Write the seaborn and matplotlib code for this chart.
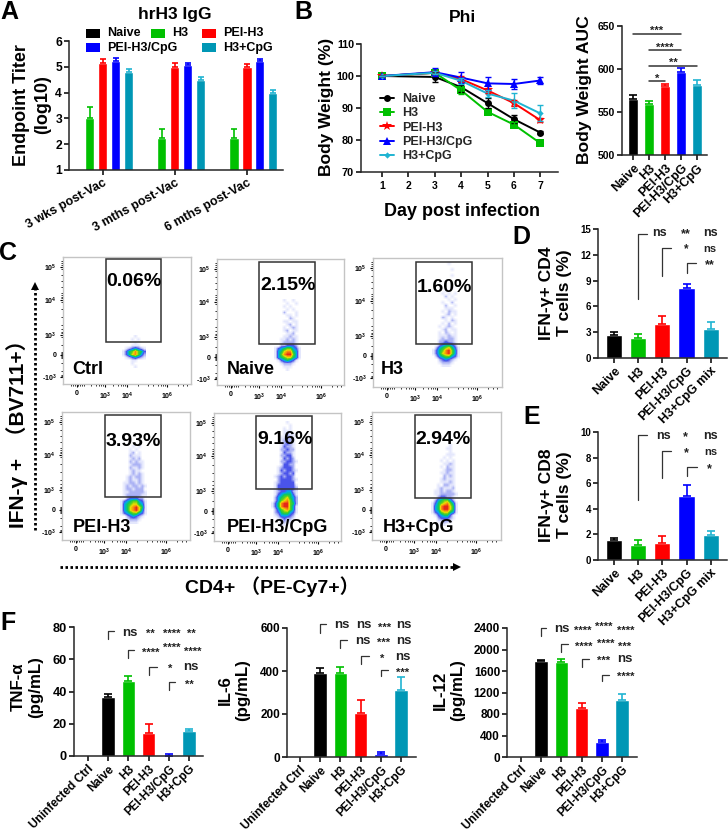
import matplotlib
matplotlib.use("Agg")
import matplotlib.pyplot as plt
import pandas as pd
import seaborn as sns
from matplotlib.colors import LinearSegmentedColormap
from matplotlib.patches import Rectangle

W, H = 728, 835

# ---- colours
BLACK, GREEN, RED, BLUE, TEAL = "#000000", "#00c000", "#ff0000", "#0000ff", "#0097b5"
TEAL_ERR = "#20b4d2"
COLORS = {"Naive": BLACK, "H3": GREEN, "PEI-H3": RED, "PEI-H3/CpG": BLUE, "H3+CpG": TEAL,
          "H3+CpG mix": TEAL, "Uninfected Ctrl": BLACK}
ERR_COLORS = {**COLORS, "H3+CpG": TEAL_ERR, "H3+CpG mix": TEAL_ERR}

# ---- A: titers
VACCINES = ["Naive", "H3", "PEI-H3", "PEI-H3/CpG", "H3+CpG"]
TIMES = ["3 wks post-Vac", "3 mths post-Vac", "6 mths post-Vac"]
TITER = {"Naive": [1, 1, 1], "H3": [3.0, 2.25, 2.25], "PEI-H3": [5.15, 5.0, 5.0],
         "PEI-H3/CpG": [5.22, 5.08, 5.23], "H3+CpG": [4.78, 4.5, 4.0]}
TITER_ERR = {"Naive": [0, 0, 0], "H3": [0.45, 0.35, 0.35], "PEI-H3": [0.15, 0.13, 0.1],
             "PEI-H3/CpG": [0.13, 0.08, 0.07], "H3+CpG": [0.15, 0.1, 0.1]}

# ---- B: body weight
DAYS = [1, 3, 4, 5, 6, 7]
WEIGHT = {"Naive": [100, 99.7, 96.5, 91.5, 86.5, 82.3], "H3": [100, 101, 95.5, 88.8, 84.8, 79],
          "PEI-H3": [100, 101, 99, 95.5, 91.5, 86.2], "PEI-H3/CpG": [100, 101.2, 99.5, 97.7, 97.5, 98.6],
          "H3+CpG": [100, 101, 98.5, 94.5, 92.3, 88.3]}
WEIGHT_ERR = {"Naive": [0, 1.5, 1.5, 1.5, 1.2, 0.5], "H3": [0, 0.5, 1, 0.7, 0.8, 0.5],
              "PEI-H3": [0, 0.5, 1, 0.7, 1, 0.7], "PEI-H3/CpG": [0, 1.2, 1.7, 2, 1.5, 1.2],
              "H3+CpG": [0, 0.5, 1, 1, 2.3, 2.5]}
MARKERS = {"Naive": "o", "H3": "s", "PEI-H3": "*", "PEI-H3/CpG": "^", "H3+CpG": "D"}
MARKER_SIZES = {"o": 5, "s": 5.2, "*": 7.5, "^": 5.5, "D": 3.2}
AUC = [565, 559.5, 580.5, 596, 581.5]
AUC_ERR = [5, 3, 2.5, 5.5, 5.5]
AUC_LINES = [(0, 3, 641), (1, 3, 622.5), (1, 4, 604), (1, 2, 586)]
AUC_STARS = [(1.45, 644, "***"), (2.0, 625, "****"), (2.5, 607, "**"), (1.5, 589, "*")]

# ---- D, E
TCELL_GROUPS = ["Naive", "H3", "PEI-H3", "PEI-H3/CpG", "H3+CpG mix"]
CD4 = [2.7, 2.3, 3.9, 8.1, 3.4]
CD4_ERR = [0.3, 0.5, 1.0, 0.55, 0.75]
CD8 = [1.55, 1.15, 1.3, 5.0, 1.95]
CD8_ERR = [0.15, 0.45, 0.6, 0.85, 0.3]
CD4_BRACKETS = [(1, 6.86, 14.46, 1.35), (2, 9.5, 12.8, 2.37), (3, 9.88, 11.05, 3.4)]
CD4_LABELS = [(1.86, 14.5, "ns", 9), (2.95, 14.4, "**", 9), (4.0, 14.5, "ns", 9),
              (2.97, 12.6, "*", 8.5), (3.97, 12.67, "ns", 8), (3.97, 10.8, "**", 9)]
CD8_BRACKETS = [(1, 4.7, 9.74, 1.37), (2, 6.37, 8.52, 2.37), (3, 6.55, 7.28, 3.43)]
CD8_LABELS = [(2.03, 9.72, "ns", 9), (2.95, 9.6, "*", 9), (3.99, 9.72, "ns", 9),
              (2.98, 8.35, "*", 9), (3.99, 8.42, "ns", 8), (3.96, 7.1, "*", 9)]

# ---- F
CYTO_GROUPS = ["Uninfected Ctrl", "Naive", "H3", "PEI-H3", "PEI-H3/CpG", "H3+CpG"]
TNF = [0, 36.5, 46.5, 14, 0.3, 15.5]
TNF_ERR = [0, 2, 3, 5.7, 1, 1.5]
TNF_BRACKETS = [(1, 72.8, 77.6, 1.3), (2, 61, 66, 2.3), (3, 50, 55, 3.4), (4, 41, 45.6, 4.3)]
TNF_LABELS = [(2.08, 76.3, "ns", 9.5), (3.07, 75.5, "**", 8), (4.13, 75.5, "****", 8), (5.13, 75.5, "**", 8),
              (3.11, 64, "****", 8), (4.13, 67, "****", 8), (5.2, 64.5, "****", 8),
              (4.08, 54, "*", 8), (5.07, 55, "ns", 9.5), (5.03, 44, "**", 8)]
IL6 = [0, 390, 390, 205, 13, 312]
IL6_ERR = [0, 25, 30, 60, 10, 60]
IL6_BRACKETS = [(1, 577, 617, 1.27), (2, 507, 543, 2.3), (3, 434, 470, 3.4), (4, 377, 406, 4.34)]
IL6_LABELS = [(2.07, 612, "ns", 9.5), (3.14, 612, "ns", 9.5), (4.18, 603, "***", 8), (5.15, 612, "ns", 9.5),
              (3.1, 538, "ns", 9.5), (4.13, 529, "***", 8), (5.15, 538, "ns", 9.5),
              (4.06, 456, "*", 8), (5.1, 465, "ns", 9.5), (5.08, 391, "***", 8)]
IL12 = [5, 1780, 1770, 915, 275, 1060]
IL12_ERR = [0, 30, 45, 85, 35, 105]
IL12_BRACKETS = [(1, 2244, 2400, 1.25), (2, 1945, 2107, 2.33), (3, 1671, 1820, 3.35), (4, 1415, 1527, 4.36)]
IL12_LABELS = [(2.0, 2381, "ns", 9.5), (3.07, 2340, "****", 8), (4.11, 2420, "****", 8), (5.16, 2340, "****", 8),
               (3.12, 2050, "****", 8), (4.19, 2110, "****", 8), (5.13, 2050, "***", 8),
               (4.09, 1780, "***", 8), (5.13, 1820, "ns", 9.5), (5.2, 1490, "****", 8)]

# ---- C: flow density, 0 empty .. 9 peak, one row per 3 px
FLOW_CTRL = ["00001000", "00010100", "00001000", "00011100", "01234321", "13568653",
             "13578642", "01234321", "00011000", "00010000", "00001000"]
FLOW_NAIVE = ["000100100", "000010010", "000101000", "000010100", "000200010", "000011010",
              "000002100", "000110110", "000012010", "000101210", "000120110", "000011200",
              "000112110", "001121210", "001222210", "002233320", "134566431", "145788541",
              "146899641", "145677541", "013454310", "001222100", "000111000", "000010000"]
FLOW_H3 = ["000001000", "000000000", "000000100", "000000000", "000000100", "000000000",
           "000000000", "000000000", "000000100", "000010000", "000101010", "000020100",
           "000001010", "000100200", "000020010", "000011100", "000102110", "000012010",
           "000210100", "000010210", "000102010", "001012100", "000120110", "001021010",
           "001112110", "001212210", "002232210", "002344320", "024567531", "135689641",
           "135789641", "024566431", "002343210", "001222100", "000111000"]
FLOW_PEI = ["000010100", "000101000", "000120100", "000211100", "000121200", "000212110",
            "000122210", "000211210", "000121100", "000121210", "001212210", "001211210",
            "011221210", "012122121", "012212220", "011222221", "012222211", "002333220",
            "134566431", "145677541", "145789751", "145789741", "134566431", "002343210",
            "001222100", "000111000"]
FLOW_PEI_CPG = ["000001000", "000000100", "000010100", "000011100", "000012110", "000112210",
                "000122210", "000123210", "000132210", "000223220", "000132210", "000223310",
                "000132320", "000223321", "000133220", "001233320", "001323321", "001233230",
                "012323320", "002333321", "012333330", "013333331", "013333332", "012334421",
                "013455531", "024567542", "024678642", "135899652", "135899641", "024678641",
                "023566431", "012444320", "001232210", "000121100", "000110000"]
FLOW_CPG = ["000000100", "000001100", "000000100", "000001110", "000010100", "000101010",
            "000011210", "000102110", "000012210", "000112110", "000021210", "000121110",
            "000111210", "001022110", "001211120", "011212210", "011222221", "002332210",
            "024566420", "135678641", "145899751", "145899751", "134677541", "013455310",
            "002333210", "001122100", "000110000"]
# name, gate text, frame l r t b, gate l r t b, density, grid x0 y0, gate text xy, name xy
FLOWS = [("Ctrl", "0.06%", (63, 191, 257, 384), (106, 161, 259, 342), FLOW_CTRL, (122, 335), (134, 282), (88, 370)),
         ("Naive", "2.15%", (217, 344, 259, 385), (259, 315, 262, 344), FLOW_NAIVE, (274, 299), (288, 285), (251, 370)),
         ("H3", "1.60%", (373, 502, 258, 387), (416, 472, 262, 344), FLOW_H3, (432, 262), (444, 287), (392, 370)),
         ("PEI-H3", "3.93%", (62, 190, 412, 540), (105, 161, 415, 497), FLOW_PEI, (120, 446), (133, 441), (102, 528)),
         ("PEI-H3/CpG", "9.16%", (214, 341, 413, 541), (256, 312, 416, 489), FLOW_PEI_CPG, (271, 421), (285, 439), (277, 528)),
         ("H3+CpG", "2.94%", (372, 501, 412, 540), (415, 471, 415, 498), FLOW_CPG, (431, 445), (443, 439), (418, 528))]
FLOW_XTICKS = [14, 42, 64, 104]
FLOW_XLABELS = ["0", "10$^{3}$", "10$^{4}$", "10$^{6}$"]
FLOW_YTICKS = [10, 43, 78, 98, 120]
FLOW_YLABELS = ["10$^{5}$", "10$^{4}$", "10$^{3}$", "0", "-10$^{3}$"]
FLOW_XMINOR = [8, 10, 12, 15, 17, 19, 21, 28, 33, 36, 38, 40, 50, 55, 58, 60, 62, 75, 85, 90, 95, 98, 100, 102, 115, 120, 124]
FLOW_YMINOR = [4, 6, 8, 12, 18, 24, 30, 36, 38, 40, 41, 45, 52, 60, 68, 72, 75, 76, 80, 88, 95, 96, 97, 99, 100, 101, 106, 114, 118, 119]
FLOW_CMAP = LinearSegmentedColormap.from_list(
    "flow", ["#ffffff", "#e4e7fc", "#aab1f4", "#4a54ea", "#00a8ee", "#10c860", "#58d020", "#e8e000", "#f88c10", "#e62818"])

sns.set_theme(style="ticks")
plt.rcParams["font.family"] = ["Liberation Sans", "Noto Sans CJK SC", "DejaVu Sans"]
plt.rcParams["font.weight"] = "bold"
plt.rcParams["axes.labelweight"] = "bold"
plt.rcParams["mathtext.fontset"] = "custom"
plt.rcParams["mathtext.rm"] = "Liberation Sans:bold"
plt.rcParams["mathtext.default"] = "rm"
plt.rcParams["xtick.color"] = "black"
plt.rcParams["ytick.color"] = "black"

fig = plt.figure(figsize=(W / 100, H / 100), dpi=100, facecolor="white")


def px_axes(left, right, top, bottom):
    return fig.add_axes([left / W, 1 - bottom / H, (right - left) / W, (bottom - top) / H])


# whole figure overlay in pixel units for free text
ov = fig.add_axes([0, 0, 1, 1], zorder=20)
ov.set_xlim(0, W)
ov.set_ylim(H, 0)
ov.axis("off")


def label(x, y, s, size, rotation=0, ha="center"):
    ov.text(x, y, s, fontsize=size, rotation=rotation, ha=ha, va="center", color="black", linespacing=1.25)


def style_axis(ax, tick_size, yticks):
    sns.despine(ax=ax)
    ax.spines["left"].set_linewidth(1.1)
    ax.spines["bottom"].set_linewidth(1.1)
    ax.set_yticks(yticks)
    ax.tick_params(axis="y", labelsize=tick_size, length=3.5, width=1.1, pad=1.5)
    ax.tick_params(axis="x", length=3.5, width=1.1, pad=1.5)
    ax.set_xlabel("")
    ax.set_ylabel("")
    ax.patch.set_alpha(0)


def err_up(ax, x, y, e, color, cap=2.6):
    if e > 0:
        ax.errorbar([x], [y], yerr=[[0], [e]], fmt="none", ecolor=color, elinewidth=1.2, capsize=cap, capthick=1.2)


def bar_panel(box, groups, values, errs, ylim, yticks, tick_size, xsize):
    ax = px_axes(*box)
    sns.barplot(x=groups, y=values, hue=groups, palette=COLORS, width=0.67, saturation=1,
                errorbar=None, legend=False, ax=ax)
    for i, g in enumerate(groups):
        err_up(ax, i, values[i], errs[i], ERR_COLORS[g])
    ax.set_ylim(*ylim)
    style_axis(ax, tick_size, yticks)
    ax.set_xticks(range(len(groups)))
    ax.set_xticklabels(groups, rotation=45, ha="right", rotation_mode="anchor", fontsize=xsize)
    return ax


def brackets(ax, rows, texts):
    for x, y0, y1, x1 in rows:
        ax.plot([x, x, x1], [y0, y1, y1], color="#333333", lw=0.9, clip_on=False, zorder=5)
    for x, y, s, size in texts:
        ax.text(x, y, s, ha="center", va="center", fontsize=size, color="#222222", clip_on=False)


# ---- A
ax = px_axes(69, 283, 41, 170)
titer_df = pd.DataFrame([{"time": t, "group": g, "value": TITER[g][i]}
                         for g in VACCINES for i, t in enumerate(TIMES)])
sns.barplot(data=titer_df, x="time", y="value", hue="group", hue_order=VACCINES, palette=COLORS,
            width=0.9, gap=0.3, saturation=1, errorbar=None, legend=False, ax=ax)
for cont, g in zip(ax.containers, VACCINES):
    for i, p in enumerate(cont):
        err_up(ax, p.get_x() + p.get_width() / 2, TITER[g][i], TITER_ERR[g][i], ERR_COLORS[g], cap=2.2)
ax.set_xlim(-0.47, 2.5)
ax.set_ylim(1, 6)
style_axis(ax, 8.7, range(1, 7))
ax.set_xticks(range(3))
ax.set_xticklabels(TIMES, rotation=29, ha="right", rotation_mode="anchor", fontsize=9)

label(175, 14, "hrH3 IgG", 12.5)
label(32, 105, "Endpoint Titer\n(log10)", 13, rotation=90)
for x, y, g in [(86, 29, "Naive"), (151, 29, "H3"), (202, 29, "PEI-H3"), (86, 43, "PEI-H3/CpG"), (202, 43, "H3+CpG")]:
    ov.add_patch(Rectangle((x, y), 13.5, 9, color=COLORS[g], lw=0))
    label(x + 21, y + 4.5, g, 9, ha="left")

# ---- B line
ax = px_axes(361, 558, 44, 172)
weight_df = pd.DataFrame([{"day": d, "group": g, "weight": WEIGHT[g][i]}
                          for g in VACCINES for i, d in enumerate(DAYS)])
sns.lineplot(data=weight_df, x="day", y="weight", hue="group", style="group", hue_order=VACCINES,
             style_order=VACCINES, palette={**COLORS, "H3+CpG": TEAL_ERR}, markers=MARKERS, dashes=False,
             errorbar=None, lw=1.4, markersize=5.5, markeredgewidth=0, ax=ax)
for g in VACCINES:
    col = TEAL_ERR if g == "H3+CpG" else COLORS[g]
    ax.errorbar(DAYS, WEIGHT[g], yerr=WEIGHT_ERR[g], fmt="none", ecolor=col, elinewidth=1, capsize=2.4, capthick=1)
ax.set_xlim(0.2, 7.67)
ax.set_ylim(70, 110)
style_axis(ax, 7.8, [70, 80, 90, 100, 110])
ax.set_xticks(range(1, 8))
ax.tick_params(axis="x", labelsize=7.5, pad=3)
handles, labels = ax.get_legend_handles_labels()
for line in list(ax.lines) + list(handles):
    if line.get_marker() in MARKER_SIZES:
        line.set_markersize(MARKER_SIZES[line.get_marker()])
ax.legend(handles, labels, frameon=False, loc="upper left", bbox_to_anchor=(380 / W, 1 - 93 / H),
          bbox_transform=fig.transFigure, prop={"size": 9, "weight": "bold"}, handlelength=1.1,
          handletextpad=0.7, labelspacing=0.19, borderpad=0, borderaxespad=0)
label(462, 18, "Phi", 12.5)
label(327, 107, "Body Weight (%)", 12.5, rotation=90)
label(462, 211, "Day post infection", 13)

# ---- B auc
ax = bar_panel((622, 707, 26, 155), VACCINES, AUC, AUC_ERR, (500, 650), [500, 550, 600, 650], 7.5, 9)
ax.set_xlim(-0.69, 4.625)
for x0, x1, y in AUC_LINES:
    ax.plot([x0, x1], [y, y], color="#333333", lw=1.1, clip_on=False)
for x, y, s in AUC_STARS:
    ax.text(x, y, s, ha="center", va="center", fontsize=8, color="#222222")
label(584, 90, "Body Weight AUC", 12.6, rotation=90)

# ---- C
for name, pct, frame, gate, grid, origin, pct_xy, name_xy in FLOWS:
    l, r, t, b = frame
    ax = px_axes(l, r, t, b)
    rows = [[int(c) for c in row] for row in grid]
    x0, y0 = origin
    ax.imshow(rows, cmap=FLOW_CMAP, vmin=0, vmax=9, interpolation="bilinear", aspect="auto",
              extent=(x0, x0 + 3 * len(rows[0]), y0 + 3 * len(rows), y0))
    ax.add_patch(Rectangle((gate[0], gate[2]), gate[1] - gate[0], gate[3] - gate[2], fill=False, ec="#333333", lw=1.1, zorder=4))
    ax.set_xlim(l, r)
    ax.set_ylim(b, t)
    for side in ax.spines.values():
        side.set_color("#c4c4c4")
        side.set_linewidth(1)
    ax.set_xticks([l + v for v in FLOW_XTICKS])
    ax.set_xticklabels(FLOW_XLABELS)
    ax.set_yticks([t + v for v in FLOW_YTICKS])
    ax.set_yticklabels(FLOW_YLABELS)
    ax.set_xticks([l + v for v in FLOW_XMINOR], minor=True)
    ax.set_yticks([t + v for v in FLOW_YMINOR], minor=True)
    ax.tick_params(which="major", length=2.5, width=0.8, labelsize=5, pad=2)
    ax.tick_params(which="minor", length=1.3, width=0.6)
    label(pct_xy[0], pct_xy[1], pct, 14)
    label(name_xy[0], name_xy[1], name, 13)

ov.plot([35, 35], [530, 288], color="black", lw=2, ls=(0, (0.9, 0.9)))
ov.plot([35], [286], marker="^", color="black", ms=6, mew=0)
ov.plot([60, 455], [567, 567], color="black", lw=2, ls=(0, (0.9, 0.9)))
ov.plot([457], [567], marker=">", color="black", ms=6, mew=0)
label(17, 429, "IFN-γ +  （BV711+）", 15, rotation=90)
label(272, 587, "CD4+ （PE-Cy7+）", 14)

# ---- D, E
ax = bar_panel((598, 727, 229, 358), TCELL_GROUPS, CD4, CD4_ERR, (0, 15), [0, 3, 6, 9, 12, 15], 7, 9)
ax.set_xlim(-0.66, 4.67)
brackets(ax, CD4_BRACKETS, CD4_LABELS)
label(556, 293, "IFN-γ+ CD4\nT cells (%)", 12.6, rotation=90)

ax = bar_panel((598, 727, 432, 560), TCELL_GROUPS, CD8, CD8_ERR, (0, 10), [0, 2, 4, 6, 8, 10], 7, 9)
ax.set_xlim(-0.66, 4.67)
brackets(ax, CD8_BRACKETS, CD8_LABELS)
label(555, 495, "IFN-γ+ CD8\nT cells (%)", 12.6, rotation=90)

# ---- F
ax = bar_panel((74, 203, 627, 756), CYTO_GROUPS, TNF, TNF_ERR, (0, 80), [0, 20, 40, 60, 80], 9.2, 8.5)
ax.set_xlim(-0.69, 5.69)
brackets(ax, TNF_BRACKETS, TNF_LABELS)
label(27, 687, "TNF-α\n(pg/mL)", 12.2, rotation=90)

ax = bar_panel((287, 416, 628, 757), CYTO_GROUPS, IL6, IL6_ERR, (0, 600), [0, 200, 400, 600], 8.5, 8.5)
ax.set_xlim(-0.64, 5.73)
brackets(ax, IL6_BRACKETS, IL6_LABELS)
label(234, 690, "IL-6\n(pg/mL)", 12.2, rotation=90)

ax = bar_panel((507, 637, 628, 757), CYTO_GROUPS, IL12, IL12_ERR, (0, 2400), [0, 400, 800, 1200, 1600, 2000, 2400], 8.5, 8.5)
ax.set_xlim(-0.69, 5.74)
brackets(ax, IL12_BRACKETS, IL12_LABELS)
label(449, 690, "IL-12\n(pg/mL)", 12.2, rotation=90)

# ---- panel letters
for x, y, s in [(9, 12, "A"), (303, 12, "B"), (8, 253, "C"), (521, 237, "D"), (532, 417, "E"), (8, 623, "F")]:
    label(x, y, s, 18)

fig.savefig("out.png", dpi=100, facecolor="white")
